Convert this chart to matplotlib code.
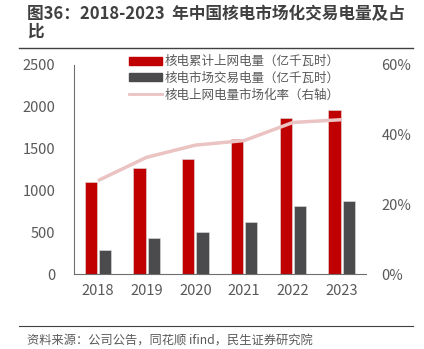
import matplotlib
matplotlib.use('Agg')
import numpy as np
from matplotlib import pyplot as plt
from matplotlib.lines import Line2D

plt.rcParams['font.family'] = ['Noto Sans CJK SC', 'DejaVu Sans']

years = ['2018', '2019', '2020', '2021', '2022', '2023']
grid_power = [1096, 1263, 1375, 1615, 1866, 1965]      # 核电累计上网电量（亿千瓦时）
market_power = [284, 426, 506, 617, 809, 877]          # 核电市场交易电量（亿千瓦时）
market_ratio = [26.8, 33.5, 37.0, 38.3, 43.5, 44.3]     # 市场化率 %

RED = '#C00000'
DARK = '#4B4B4D'
PINK = '#EBC3C3'
TEXT = '#595959'

fig = plt.figure(figsize=(4.24, 3.49), dpi=100)
ax = fig.add_axes([73.5 / 424, 1 - 274 / 349, 292.5 / 424, 209 / 349])

x = np.arange(len(years))
w = 0.25
ax.bar(x - w / 2 - 0.02, grid_power, w, color=RED, edgecolor='#e0e0e0', linewidth=0.4, zorder=2)
ax.bar(x + w / 2 + 0.02, market_power, w, color=DARK, edgecolor='#e0e0e0', linewidth=0.4, zorder=2)
ax.set_xlim(-0.5, len(years) - 0.5)
ax.set_ylim(0, 2500)
ax.set_yticks([0, 500, 1000, 1500, 2000, 2500])
ax.set_xticks(x)
ax.set_xticklabels(years)
ax.tick_params(length=0, labelsize=10.5, colors=TEXT)
ax.tick_params(axis='y', pad=13)
ax.tick_params(axis='x', pad=7)
for s in ['top', 'right']:
    ax.spines[s].set_visible(False)
ax.spines['left'].set_color('#6e6e6e')
ax.spines['bottom'].set_color('#6e6e6e')

ax2 = ax.twinx()
ax2.plot(x, market_ratio, color=PINK, linewidth=2.5, solid_capstyle='butt', zorder=3)
ax2.set_ylim(0, 60)
ax2.set_yticks([0, 20, 40, 60])
ax2.set_yticklabels(['0%', '20%', '40%', '60%'])
ax2.tick_params(length=0, labelsize=10.5, colors=TEXT, pad=11)
for s in ['top', 'right', 'left', 'bottom']:
    ax2.spines[s].set_visible(False)

handles = [
    plt.Rectangle((0, 0), 1, 1, color=RED),
    plt.Rectangle((0, 0), 1, 1, color=DARK),
    Line2D([0], [0], color=PINK, linewidth=2),
]
labels = ['核电累计上网电量（亿千瓦时）', '核电市场交易电量（亿千瓦时）', '核电上网电量市场化率（右轴）']
leg = fig.legend(handles, labels, loc='upper left', bbox_to_anchor=(124 / 424, 1 - 50 / 349),
                 frameon=False, fontsize=9, handlelength=2.6, handleheight=0.6,
                 labelspacing=0.3, handletextpad=0.25, borderaxespad=0)
for t in leg.get_texts():
    t.set_color(TEXT)

fig.text(27 / 424, 1 - 14 / 349, '图36：2018-2023  年中国核电市场化交易电量及占',
         fontsize=12, fontweight='bold', color='#404040', va='center', ha='left')
fig.text(27 / 424, 1 - 32 / 349, '比',
         fontsize=12, fontweight='bold', color='#404040', va='center', ha='left')
fig.add_artist(Line2D([19 / 424, 413 / 424], [1 - 47.5 / 349] * 2, color='#404040', linewidth=1))
fig.add_artist(Line2D([19 / 424, 413 / 424], [1 - 325.5 / 349] * 2, color='#404040', linewidth=0.8))
fig.text(27 / 424, 1 - 341 / 349, '资料来源：公司公告，同花顺 ifind，民生证券研究院',
         fontsize=8.8, color=TEXT, va='center', ha='left')

fig.savefig('out.png', dpi=100)
